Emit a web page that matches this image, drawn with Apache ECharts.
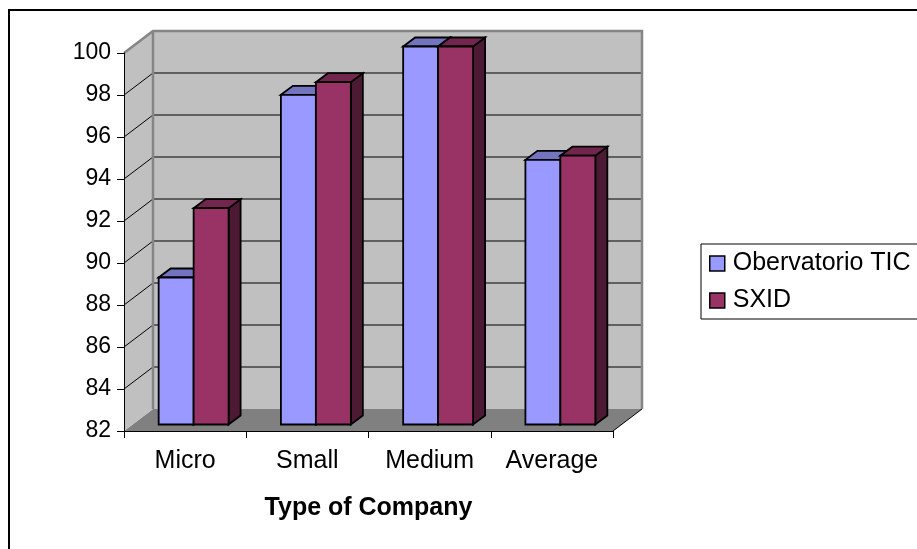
<!DOCTYPE html>
<html>
<head>
<meta charset="utf-8">
<script src="https://cdn.jsdelivr.net/npm/echarts@6/dist/echarts.min.js"></script>
<style>
  html, body { margin: 0; padding: 0; background: #fff; }
  #chart { width: 917px; height: 549px; }
</style>
</head>
<body>
<div id="chart"></div>
<script>
// Survey results by company size
const categories = ['Micro', 'Small', 'Medium', 'Average'];
const seriesNames = ['Obervatorio TIC', 'SXID'];
const obsTIC = [89.0, 97.7, 100, 94.6];
const sxid = [92.3, 98.3, 100, 94.8];

// Value axis range and tick step
const yMin = 82;
const yMax = 100;
const yStep = 2;

// Pseudo-3D depth of the plot box and of each bar (pixels)
const WALL_DX = 29, WALL_DY = 22;
const BAR_FRONT_DX = 8.5, BAR_FRONT_DY = 6.5;
const BAR_DX = 12, BAR_DY = 9;
const BAR_RATIO = 0.286;

const palettes = [
  { front: '#9999FF', top: '#7373C0', side: '#4D4D80' },
  { front: '#993366', top: '#73264D', side: '#4D1A33' }
];

const font = '"Liberation Sans", Arial, sans-serif';

function tickValues() {
  const out = [];
  for (let v = yMin; v <= yMax + 1e-9; v += yStep) out.push(v);
  return out;
}

// Back wall, side wall, floor and their grid lines
function renderWalls(params, api) {
  const cs = params.coordSys;
  const x0 = cs.x, x1 = cs.x + cs.width;
  const yTop = cs.y, yBot = cs.y + cs.height;
  const children = [];
  // floor
  children.push({
    type: 'polygon',
    shape: { points: [[x0, yBot], [x1, yBot], [x1 + WALL_DX, yBot - WALL_DY], [x0 + WALL_DX, yBot - WALL_DY]] },
    style: { fill: '#808080', stroke: null }
  });
  // floor right edge
  children.push({
    type: 'line',
    shape: { x1: x1, y1: yBot, x2: x1 + WALL_DX, y2: yBot - WALL_DY },
    style: { stroke: '#000', lineWidth: 1 }
  });
  // left wall
  children.push({
    type: 'polygon',
    shape: { points: [[x0, yTop], [x0 + WALL_DX, yTop - WALL_DY], [x0 + WALL_DX, yBot - WALL_DY], [x0, yBot]] },
    style: { fill: '#C0C0C0', stroke: null }
  });
  // back wall
  children.push({
    type: 'rect',
    shape: { x: x0 + WALL_DX, y: yTop - WALL_DY, width: cs.width, height: cs.height },
    style: { fill: '#C0C0C0', stroke: null }
  });
  // grid lines
  tickValues().forEach(function (v) {
    if (v === yMin || v === yMax) return;
    const y = api.coord([0, v])[1];
    children.push({
      type: 'polyline',
      shape: { points: [[x0, y], [x0 + WALL_DX, y - WALL_DY], [x1 + WALL_DX, y - WALL_DY]] },
      style: { stroke: '#000', lineWidth: 1, fill: null }
    });
  });
  // wall edges
  children.push({
    type: 'polyline',
    shape: { points: [[x0, yTop], [x0 + WALL_DX, yTop - WALL_DY], [x1 + WALL_DX, yTop - WALL_DY], [x1 + WALL_DX, yBot - WALL_DY]] },
    style: { stroke: '#858585', lineWidth: 2.5, fill: null, lineJoin: 'miter' }
  });
  children.push({
    type: 'line',
    shape: { x1: x0 + WALL_DX, y1: yTop - WALL_DY, x2: x0 + WALL_DX, y2: yBot - WALL_DY },
    style: { stroke: '#858585', lineWidth: 2.5 }
  });
  return { type: 'group', children: children };
}

// One box-shaped bar: front face, top face and right side face
function makeBarRenderer(seriesIdx) {
  const pal = palettes[seriesIdx];
  return function (params, api) {
    const cat = api.value(0);
    const val = api.value(1);
    const base = api.coord([cat, yMin]);
    const top = api.coord([cat, val]);
    const band = api.size([1, 0])[0];
    const w = band * BAR_RATIO;
    const xl = base[0] + (seriesIdx === 0 ? -w : 0) + BAR_FRONT_DX;
    const xr = xl + w;
    const yb = base[1] - BAR_FRONT_DY;
    const yt = top[1] - BAR_FRONT_DY;
    const edge = { stroke: '#000', lineWidth: 1.8, lineJoin: 'miter' };
    return {
      type: 'group',
      children: [
        {
          type: 'polygon',
          shape: { points: [[xr, yt], [xr + BAR_DX, yt - BAR_DY], [xr + BAR_DX, yb - BAR_DY], [xr, yb]] },
          style: Object.assign({ fill: pal.side }, edge)
        },
        {
          type: 'polygon',
          shape: { points: [[xl, yt], [xl + BAR_DX, yt - BAR_DY], [xr + BAR_DX, yt - BAR_DY], [xr, yt]] },
          style: Object.assign({ fill: pal.top }, edge)
        },
        {
          type: 'rect',
          shape: { x: xl, y: yt, width: w, height: yb - yt },
          style: Object.assign({ fill: pal.front }, edge)
        }
      ]
    };
  };
}

const chart = echarts.init(document.getElementById('chart'), null, { renderer: 'canvas' });

const option = {
  backgroundColor: '#fff',
  animation: false,
  textStyle: { fontFamily: font },
  grid: { left: 124, right: 304, top: 53, bottom: 118, containLabel: false },
  graphic: [
    {
      type: 'rect',
      shape: { x: 9, y: 10, width: 930, height: 560 },
      style: { fill: null, stroke: '#000', lineWidth: 2 },
      z: 100
    }
  ],
  legend: {
    orient: 'vertical',
    left: 701,
    top: 244,
    padding: [7, 12, 6, 8],
    itemWidth: 15,
    itemHeight: 15,
    itemGap: 12,
    borderColor: '#000',
    borderWidth: 1,
    icon: 'rect',
    textStyle: { fontSize: 25, color: '#000', fontFamily: font, lineHeight: 25, padding: [0, 0, 0, 3] },
    data: [
      { name: seriesNames[0], itemStyle: { color: palettes[0].front, borderColor: '#000', borderWidth: 1.5 } },
      { name: seriesNames[1], itemStyle: { color: palettes[1].front, borderColor: '#000', borderWidth: 1.5 } }
    ]
  },
  xAxis: {
    type: 'category',
    data: categories,
    z: 5,
    boundaryGap: true,
    name: 'Type of Company',
    nameLocation: 'middle',
    nameGap: 65,
    nameTextStyle: { fontSize: 25, fontWeight: 'bold', color: '#000', fontFamily: font },
    axisLine: { lineStyle: { color: '#000', width: 1 } },
    axisTick: { show: true, length: 7, lineStyle: { color: '#000' }, interval: 0 },
    axisLabel: { fontSize: 25, color: '#000', margin: 18, fontFamily: font },
    splitLine: { show: false }
  },
  yAxis: {
    type: 'value',
    min: yMin,
    max: yMax,
    interval: yStep,
    z: 5,
    axisLine: { show: true, lineStyle: { color: '#000', width: 1 } },
    axisTick: { show: true, length: 7, lineStyle: { color: '#000' } },
    axisLabel: { fontSize: 23, color: '#000', margin: 13, fontFamily: font },
    splitLine: { show: false }
  },
  series: [
    {
      type: 'custom',
      name: '__walls',
      silent: true,
      z: 1,
      renderItem: renderWalls,
      data: [[0, yMin]],
      encode: { x: 0, y: 1 }
    },
    {
      type: 'custom',
      name: seriesNames[0],
      z: 2,
      itemStyle: { color: palettes[0].front },
      renderItem: makeBarRenderer(0),
      data: obsTIC.map(function (v, i) { return [i, v]; }),
      encode: { x: 0, y: 1 }
    },
    {
      type: 'custom',
      name: seriesNames[1],
      z: 3,
      itemStyle: { color: palettes[1].front },
      renderItem: makeBarRenderer(1),
      data: sxid.map(function (v, i) { return [i, v]; }),
      encode: { x: 0, y: 1 }
    }
  ]
};

chart.setOption(option);
</script>
</body>
</html>
